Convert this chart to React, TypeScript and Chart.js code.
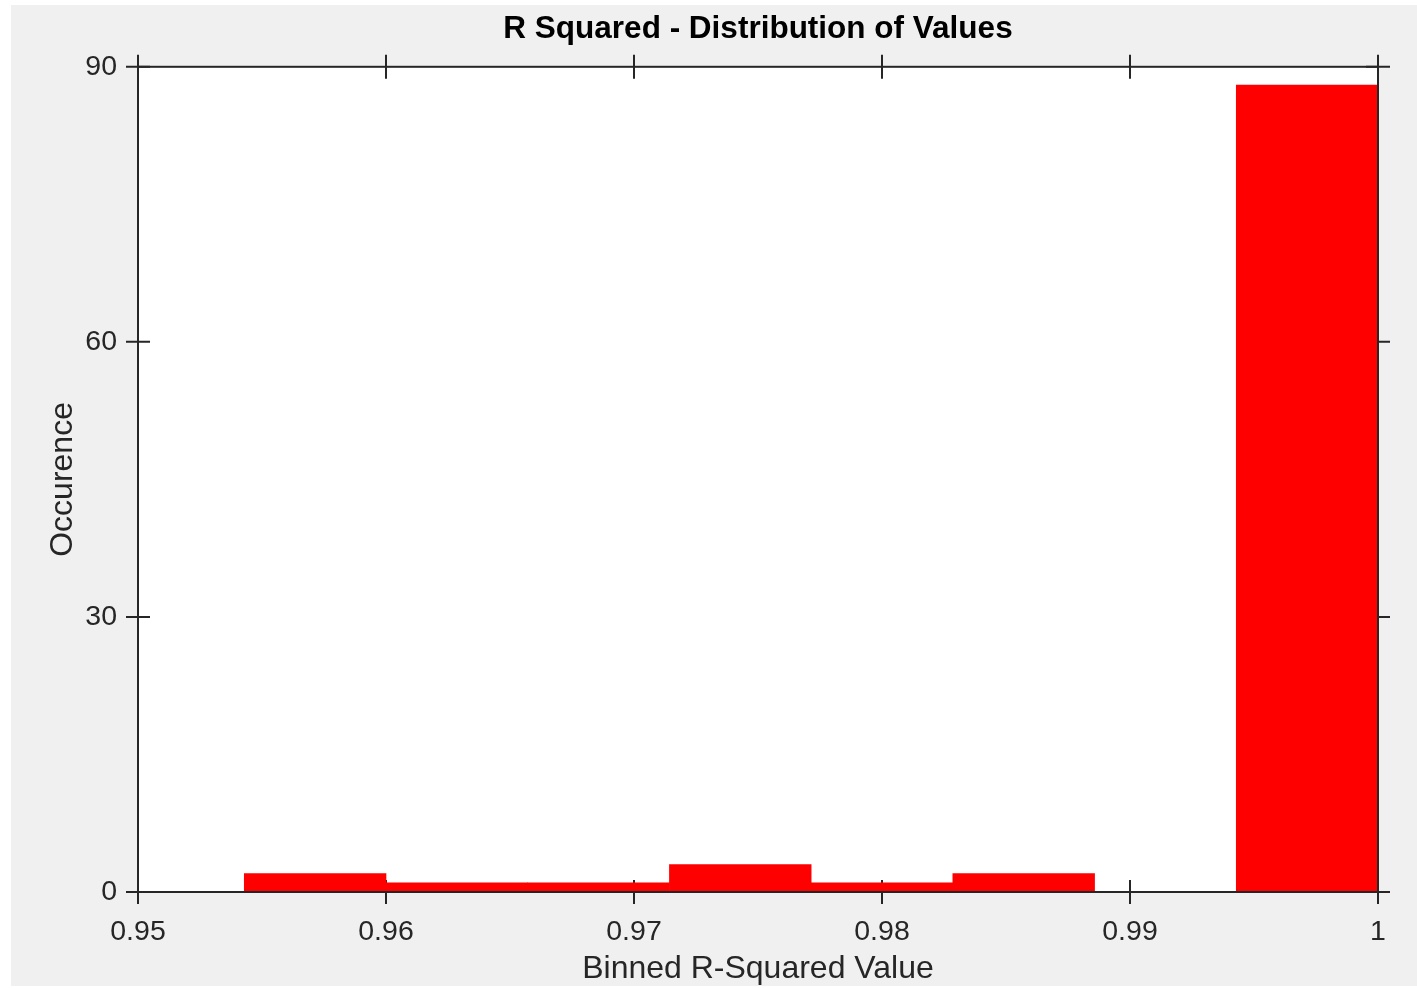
import React, { useEffect, useRef } from 'react';
import { Chart, registerables } from 'chart.js';

Chart.register(...registerables);

// Histogram bins (centres) and counts
const binCenters = [0.957143, 0.962857, 0.968571, 0.974286, 0.98, 0.985714, 0.991429, 0.997143];
const binCounts = [2, 1, 1, 3, 1, 2, 0, 88];

const xTickValues = [0.95, 0.96, 0.97, 0.98, 0.99, 1];
const xTickLabels = ['0.95', '0.96', '0.97', '0.98', '0.99', '1'];
const yTickValues = [0, 30, 60, 90];
const yTickLabels = ['0', '30', '60', '90'];

const FONT = "'Liberation Sans', Arial, Helvetica, sans-serif";
const AXIS_COLOR = '#262626';
const TICK_LEN = 12;

const axesBoxPlugin = {
  id: 'axesBox',
  beforeDatasetsDraw(chart: any) {
    const { ctx, chartArea: a, scales } = chart;
    const xs = scales.x;
    const ys = scales.y;
    ctx.save();
    ctx.fillStyle = '#ffffff';
    ctx.fillRect(a.left, a.top, a.right - a.left, a.bottom - a.top);
    ctx.strokeStyle = AXIS_COLOR;
    ctx.lineWidth = 2;
    ctx.beginPath();
    xTickValues.forEach((v) => {
      const px = xs.getPixelForValue(v);
      ctx.moveTo(px, a.bottom - TICK_LEN);
      ctx.lineTo(px, a.bottom + TICK_LEN);
      ctx.moveTo(px, a.top - TICK_LEN);
      ctx.lineTo(px, a.top + TICK_LEN);
    });
    yTickValues.forEach((v) => {
      const py = ys.getPixelForValue(v);
      ctx.moveTo(a.left - TICK_LEN, py);
      ctx.lineTo(a.left + TICK_LEN, py);
      ctx.moveTo(a.right - TICK_LEN, py);
      ctx.lineTo(a.right + TICK_LEN, py);
    });
    ctx.stroke();
    ctx.restore();
  },
  afterDatasetsDraw(chart: any) {
    const { ctx, chartArea: a } = chart;
    ctx.save();
    ctx.strokeStyle = AXIS_COLOR;
    ctx.lineWidth = 2;
    ctx.strokeRect(a.left, a.top, a.right - a.left, a.bottom - a.top);
    ctx.restore();
  },
};

export default function App() {
  const canvasRef = useRef<HTMLCanvasElement | null>(null);

  useEffect(() => {
    const canvas = canvasRef.current;
    if (!canvas) return;
    const chart = new Chart(canvas, {
      type: 'bar',
      data: {
        datasets: [
          {
            label: 'Occurence',
            data: binCenters.map((x, i) => ({ x, y: binCounts[i] })),
            backgroundColor: '#ff0000',
            borderWidth: 0,
            barPercentage: 1,
            categoryPercentage: 1,
          },
        ],
      },
      options: {
        responsive: false,
        animation: false,
        devicePixelRatio: 1,
        layout: { padding: { left: 0, top: 0, right: 39, bottom: 0 } },
        plugins: {
          legend: { display: false },
          tooltip: { enabled: false },
          title: {
            display: true,
            text: 'R Squared - Distribution of Values',
            fullSize: false,
            color: '#000000',
            font: { family: FONT, size: 31.5, weight: 'bold' },
            padding: { top: 5, bottom: 19 },
          },
        },
        scales: {
          x: {
            type: 'linear',
            min: 0.95,
            max: 1,
            offset: false,
            grid: { display: false, drawTicks: false },
            border: { display: false },
            afterBuildTicks: (scale: any) => {
              scale.ticks = xTickValues.map((value) => ({ value }));
            },
            afterFit: (scale: any) => {
              scale.height = 94;
            },
            ticks: {
              autoSkip: false,
              maxRotation: 0,
              padding: 23,
              color: AXIS_COLOR,
              font: { family: FONT, size: 28.5 },
              callback: (_v: any, i: number) => xTickLabels[i],
            },
            title: {
              display: true,
              text: 'Binned R-Squared Value',
              color: AXIS_COLOR,
              font: { family: FONT, size: 32 },
              padding: { top: 0, bottom: -2 },
            },
          },
          y: {
            type: 'linear',
            min: 0,
            max: 90,
            grid: { display: false, drawTicks: false },
            border: { display: false },
            afterBuildTicks: (scale: any) => {
              scale.ticks = yTickValues.map((value) => ({ value }));
            },
            afterFit: (scale: any) => {
              scale.width = 127;
            },
            ticks: {
              autoSkip: false,
              padding: 21,
              color: AXIS_COLOR,
              font: { family: FONT, size: 28.5 },
              callback: (_v: any, i: number) => yTickLabels[i],
            },
            title: {
              display: true,
              text: 'Occurence',
              color: AXIS_COLOR,
              font: { family: FONT, size: 32 },
              padding: { top: 33, bottom: 0 },
            },
          },
        },
      },
      plugins: [axesBoxPlugin],
    } as any);
    return () => chart.destroy();
  }, []);

  return (
    <div
      style={{
        position: 'fixed',
        left: 0,
        top: 0,
        width: 1417,
        height: 988,
        background: '#ffffff',
      }}
    >
      <canvas
        ref={canvasRef}
        width={1406}
        height={981}
        style={{
          position: 'absolute',
          left: 11,
          top: 5,
          width: 1406,
          height: 981,
          display: 'block',
          background: '#f0f0f0',
        }}
      />
    </div>
  );
}
